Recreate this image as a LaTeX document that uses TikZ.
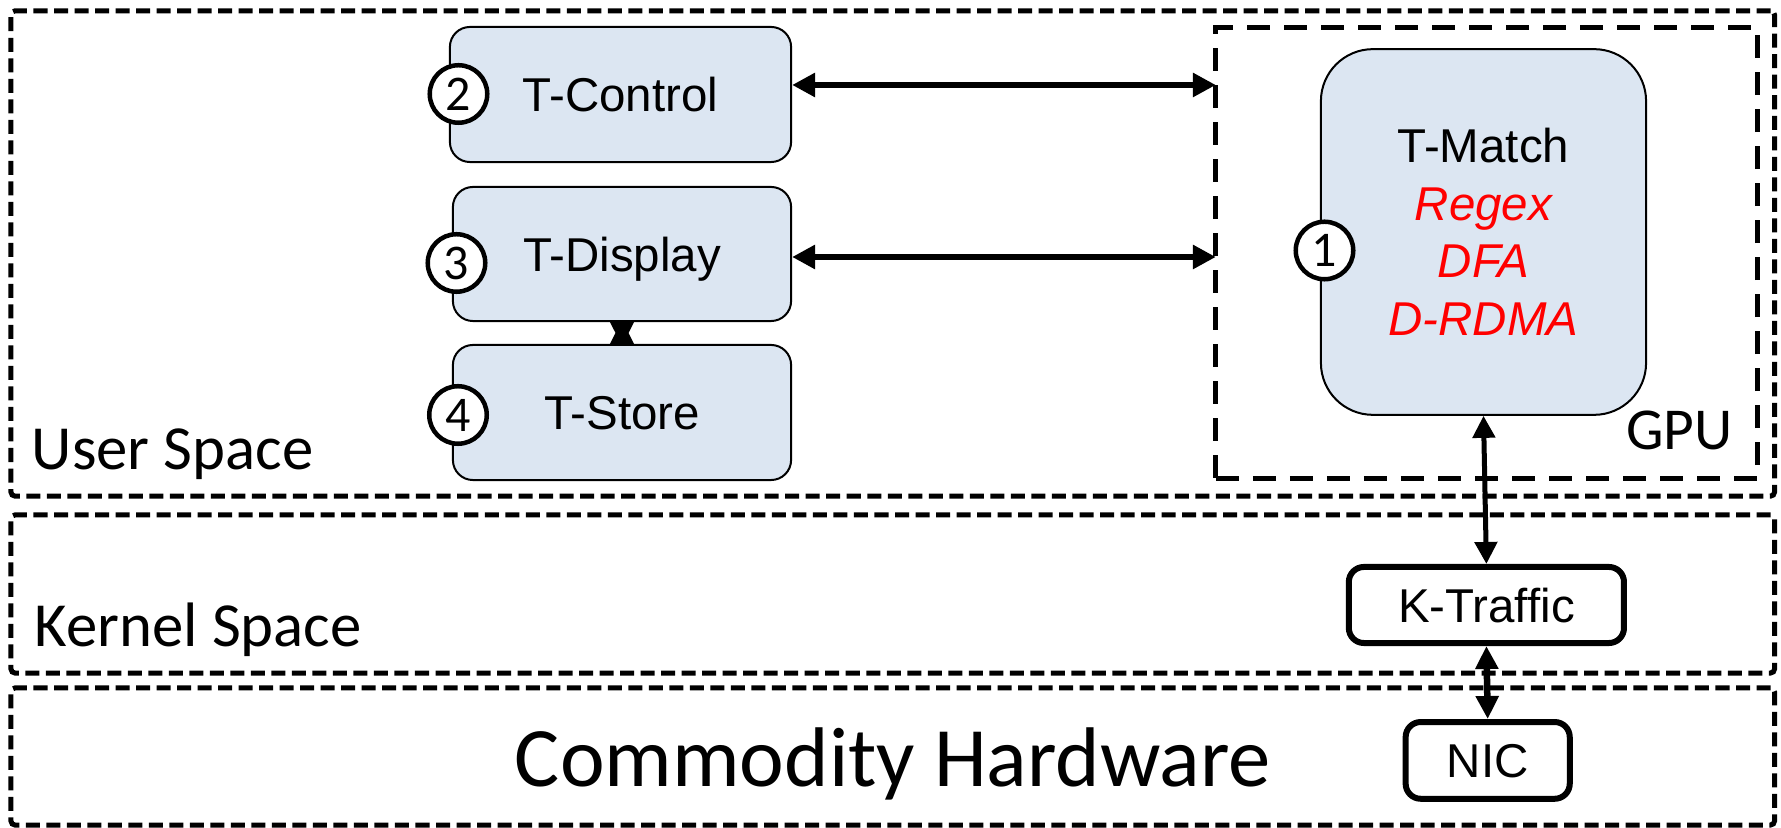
\documentclass[tikz,border=0pt]{standalone}
\usepackage{fontspec}
\setmainfont{Liberation Sans}
\newfontfamily\calibri{Carlito}
\usetikzlibrary{arrows.meta,calc}
\definecolor{boxfill}{HTML}{DCE6F2}
\begin{document}
\begin{tikzpicture}[x=0.01cm,y=-0.01cm,
  layer/.style={draw, line width=0.05cm, dash pattern=on 0.14cm off 0.065cm, rounded corners=0.04cm, inner sep=0, outer sep=0},
  gpubox/.style={draw, line width=0.05cm, dash pattern=on 0.23cm off 0.14cm, inner sep=0, outer sep=0},
  tbox/.style={draw, line width=0.02cm, fill=boxfill, rounded corners=0.2cm, inner sep=0, text height=0.34cm, text depth=0pt, font=\fontsize{13.5}{16.36}\selectfont},
  mbox/.style={draw, line width=0.02cm, fill=boxfill, rounded corners=0.52cm, inner sep=0, align=center, font=\fontsize{13.5}{16.36}\selectfont},
  kbox/.style={draw, line width=0.06cm, fill=white, rounded corners=0.15cm, inner sep=0, text height=0.34cm, text depth=0pt, font=\fontsize{13.5}{16.36}\selectfont},
  num/.style={circle, draw, line width=0.045cm, fill=white, minimum size=0.575cm, inner sep=0, font=\calibri\fontsize{14.2}{17}\selectfont},
  lbl/.style={inner sep=0, font=\calibri\fontsize{17.85}{21}\selectfont},
  harrow/.style={{Triangle[length=0.23cm,width=0.23cm]}-{Triangle[length=0.23cm,width=0.23cm]}, line width=0.065cm},
  varrow/.style={{Triangle[length=0.22cm,width=0.22cm]}-{Triangle[length=0.22cm,width=0.22cm]}, line width=0.05cm},
  karrow/.style={{Triangle[length=0.23cm,width=0.22cm]}-{Triangle[length=0.23cm,width=0.22cm]}, line width=0.065cm}
]
\useasboundingbox (0,0) rectangle (1781,828);

% layers
\node[layer, minimum width=17.625cm, minimum height=4.85cm] (user) at (892.75,253.5) {};
\node[layer, minimum width=17.625cm, minimum height=1.58cm] (kern) at (892.75,594) {};
\node[layer, minimum width=17.625cm, minimum height=1.37cm] (hw) at (892.75,756.5) {};
\node[gpubox, minimum width=5.416cm, minimum height=4.505cm] (gpu) at (1486.8,253.25) {};

% labels
\node[lbl, anchor=base west] (us) at (31,470) {User Space};
\node[lbl, anchor=base west] (ks) at (34,646.7) {Kernel Space};
\node[inner sep=0, anchor=base, font=\calibri\fontsize{24.07}{28}\selectfont] (ch) at (893,787) {Commodity Hardware};
\node[inner sep=0, anchor=base, font=\calibri\fontsize{16.9}{20}\selectfont] (gpulbl) at (1679.5,450) {GPU};

% boxes
\node[tbox, minimum width=3.41cm, minimum height=1.35cm] (tctrl) at (620.5,94.5) {T-Control};
\node[tbox, minimum width=3.38cm, minimum height=1.34cm] (tdisp) at (622,254) {T-Display};
\node[tbox, minimum width=3.38cm, minimum height=1.35cm] (tstore) at (622,412.5) {T-Store};
\node[mbox, minimum width=3.25cm, minimum height=3.655cm] (tmatch) at (1483.5,232)
  {T-Match\\\textcolor{red}{\itshape Regex}\\\textcolor{red}{\itshape DFA}\\\textcolor{red}{\itshape D-RDMA}};
\node[kbox, minimum width=2.75cm, minimum height=0.76cm] (ktraffic) at (1486.4,605) {K-Traffic};
\node[kbox, minimum width=1.64cm, minimum height=0.767cm] (nic) at (1487.7,760.4) {NIC};

% connectors
\coordinate (a1) at ([yshift=0.095cm]tctrl.east);
\coordinate (a2) at ([yshift=-0.03cm]tdisp.east);
\draw[harrow] (a1) -- (a1 -| gpu.west);
\draw[harrow] (a2) -- (a2 -| gpu.west);
\coordinate (bm) at ($(tdisp.south)!0.5!(tstore.north)$);
\fill ([xshift=-0.12cm]tdisp.south) -- ([xshift=0.12cm]tdisp.south) -- ([xshift=0.065cm]bm)
  -- ([xshift=0.12cm]tstore.north) -- ([xshift=-0.12cm]tstore.north) -- ([xshift=-0.065cm]bm) -- cycle;
\draw[varrow] (tmatch.south) -- (ktraffic.north);
\draw[karrow] (ktraffic.south) -- (nic.north);

% numbered circles
\node[num] (c2) at (458.5,94) {2};
\node[num] (c3) at (456.5,263) {3};
\node[num] (c4) at (458,415) {4};
\node[num] (c1) at (1324.5,250.5) {1};
\end{tikzpicture}
\end{document}
